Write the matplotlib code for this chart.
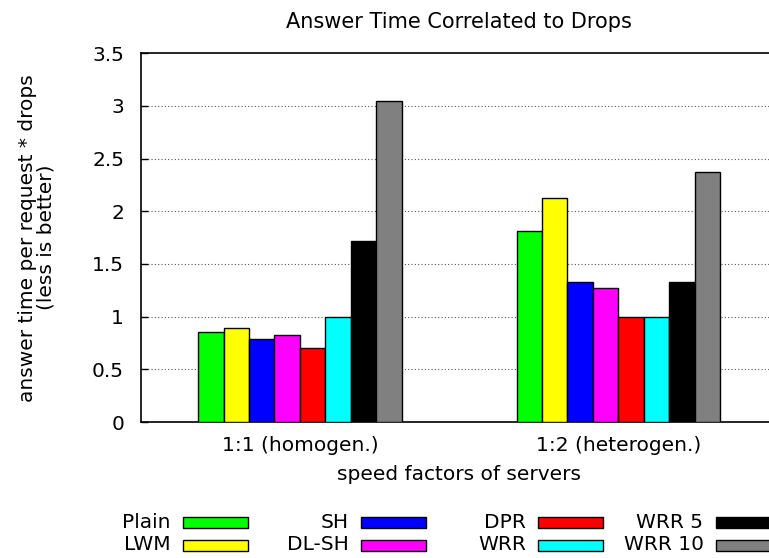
import matplotlib
matplotlib.use("Agg")
import matplotlib.pyplot as plt
from matplotlib.patches import Rectangle
import numpy as np

plt.rcParams['font.family'] = ['DejaVu Sans']

categories = ["1:1 (homogen.)", "1:2 (heterogen.)"]
series_names = ["Plain", "LWM", "SH", "DL-SH", "DPR", "WRR", "WRR 5", "WRR 10"]
series_colors = ["#00ff00", "#ffff00", "#0000ff", "#ff00ff", "#ff0000", "#00ffff", "#000000", "#808080"]
values = {
    "Plain":  [0.85, 1.81],
    "LWM":    [0.89, 2.13],
    "SH":     [0.79, 1.33],
    "DL-SH":  [0.83, 1.27],
    "DPR":    [0.70, 1.00],
    "WRR":    [1.00, 1.00],
    "WRR 5":  [1.72, 1.33],
    "WRR 10": [3.05, 2.37],
}
yticks = [0, 0.5, 1, 1.5, 2, 2.5, 3, 3.5]
ytick_labels = ["0", "0.5", "1", "1.5", "2", "2.5", "3", "3.5"]

FS = 14.5
W, H = 769, 558
fig = plt.figure(figsize=(W/100, H/100), dpi=100)
ax = fig.add_axes([140.7/W, (H-422)/H, (777.7-140.7)/W, (422-53.3)/H])

x = np.arange(len(categories))
w = 0.08
n = len(series_names)
for i, name in enumerate(series_names):
    ax.bar(x + (i - (n-1)/2) * w, values[name], width=w, color=series_colors[i],
           edgecolor="black", linewidth=1.0, zorder=3, label=name)

ax.set_xlim(-0.5, 1.5)
ax.set_ylim(0, 3.5)
ax.set_yticks(yticks)
ax.set_yticklabels(ytick_labels, fontsize=FS)
ax.set_xticks(x)
ax.set_xticklabels(categories, fontsize=FS)
ax.tick_params(axis='y', direction='in', length=5, width=1, pad=12)
ax.tick_params(axis='x', length=0, pad=10)
for yv in yticks[1:-1]:
    ax.axhline(yv, color="#555555", linestyle=(0, (1, 2)), linewidth=0.8, zorder=1)
for s in ax.spines.values():
    s.set_linewidth(1.2)

ax.set_title("Answer Time Correlated to Drops", fontsize=15, pad=18)
ax.set_xlabel("speed factors of servers", fontsize=FS, labelpad=7)
ax.set_ylabel("answer time per request * drops\n(less is better)", fontsize=FS, labelpad=26, linespacing=1.0)

# legend: 4 columns x 2 rows, label to the left of the swatch (gnuplot style)
row_y = [522, 545]
col_x0 = 183
col_step = 177.5
sw_w, sw_h = 65, 11
for i, name in enumerate(series_names):
    col, row = i // 2, i % 2
    sx = col_x0 + col * col_step
    sy = row_y[row]
    fig.patches.append(Rectangle(((sx)/W, (H - sy - sw_h/2)/H), sw_w/W, sw_h/H,
                                 transform=fig.transFigure, facecolor=series_colors[i],
                                 edgecolor="black", linewidth=1.0))
    fig.text((sx - 12)/W, (H - sy)/H, name, ha="right", va="center", fontsize=FS)

fig.savefig("out.png", dpi=100)
